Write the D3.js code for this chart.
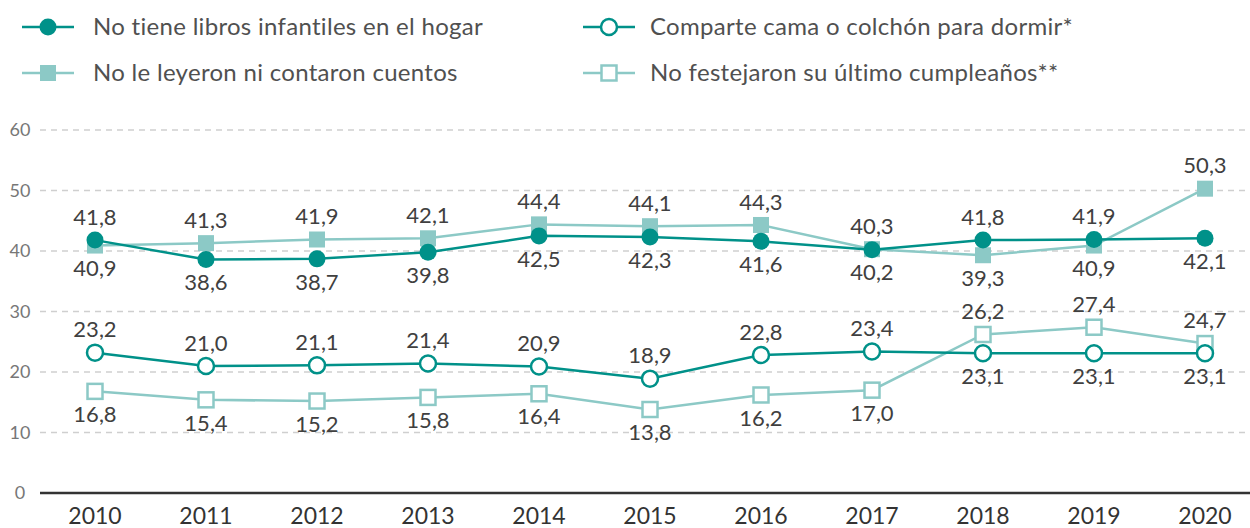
<!DOCTYPE html>
<html>
<head>
<meta charset="utf-8">
<script src="https://cdn.jsdelivr.net/npm/d3@7"></script>
<style>
  body { margin: 0; background: #fff; }
  svg { display: block; font-family: Lato, "Noto Sans", sans-serif; }
</style>
</head>
<body>
<svg width="1250" height="528"></svg>
<script>
var years = [2010, 2011, 2012, 2013, 2014, 2015, 2016, 2017, 2018, 2019, 2020];
var yTicks = [0, 10, 20, 30, 40, 50, 60];

var libros    = [41.8, 38.6, 38.7, 39.8, 42.5, 42.3, 41.6, 40.2, 41.8, 41.9, 42.1];
var cuentos   = [40.9, 41.3, 41.9, 42.1, 44.4, 44.1, 44.3, 40.3, 39.3, 40.9, 50.3];
var cama      = [23.2, 21.0, 21.1, 21.4, 20.9, 18.9, 22.8, 23.4, 23.1, 23.1, 23.1];
var cumple    = [16.8, 15.4, 15.2, 15.8, 16.4, 13.8, 16.2, 17.0, 26.2, 27.4, 24.7];

// label placement: 1 = above, -1 = below
var librosPos  = [1, -1, -1, -1, -1, -1, -1, -1, 1, 1, -1];
var cuentosPos = [-1, 1, 1, 1, 1, 1, 1, 1, -1, -1, 1];
var camaPos    = [1, 1, 1, 1, 1, 1, 1, 1, -1, -1, -1];
var cumplePos  = [-1, -1, -1, -1, -1, -1, -1, -1, 1, 1, 1];

var dark = "#009189", light = "#8cc9c6";

var series = [
    {name: "No tiene libros infantiles en el hogar", values: libros, pos: librosPos, color: dark, shape: "circle", filled: true},
    {name: "No le leyeron ni contaron cuentos", values: cuentos, pos: cuentosPos, color: light, shape: "square", filled: true},
    {name: "Comparte cama o colchón para dormir*", values: cama, pos: camaPos, color: dark, shape: "circle", filled: false},
    {name: "No festejaron su último cumpleaños**", values: cumple, pos: cumplePos, color: light, shape: "square", filled: false}
];

var svg = d3.select("svg");

var x = d3.scalePoint().domain(years).range([95, 1205]);
var y = d3.scaleLinear().domain([0, 60]).range([493, 130]);

// grid
svg.append("g").selectAll("line")
    .data(yTicks.filter(function(d) { return d > 0; }))
    .enter().append("line")
    .attr("x1", 40).attr("x2", 1250)
    .attr("y1", function(d) { return y(d); })
    .attr("y2", function(d) { return y(d); })
    .attr("stroke", "#cfcfcf")
    .attr("stroke-width", 1.5)
    .attr("stroke-dasharray", "6,5");

svg.append("g").selectAll("text")
    .data(yTicks)
    .enter().append("text")
    .attr("x", 20)
    .attr("y", function(d) { return y(d); })
    .attr("dy", "0.35em")
    .attr("text-anchor", "middle")
    .attr("fill", "#777")
    .attr("font-size", 18)
    .text(function(d) { return d; });

// x axis
svg.append("line")
    .attr("x1", 40).attr("x2", 1250)
    .attr("y1", y(0)).attr("y2", y(0))
    .attr("stroke", "#333").attr("stroke-width", 2.5);

svg.append("g").selectAll("text")
    .data(years)
    .enter().append("text")
    .attr("x", function(d) { return x(d); })
    .attr("y", 524)
    .attr("text-anchor", "middle")
    .attr("fill", "#333")
    .attr("font-size", 23)
    .text(function(d) { return d; });

var lineFunction = d3.line()
    .x(function(d, i) { return x(years[i]); })
    .y(function(d) { return y(d); });

function drawMarker(g, s, cx, cy) {
    if (s.shape === "circle") {
        g.append("circle")
            .attr("cx", cx).attr("cy", cy)
            .attr("r", s.filled ? 8.5 : 8)
            .attr("fill", s.filled ? s.color : "#fff")
            .attr("stroke", s.color)
            .attr("stroke-width", s.filled ? 0 : 2.5);
    } else {
        var h = s.filled ? 8 : 7.5;
        g.append("rect")
            .attr("x", cx - h).attr("y", cy - h)
            .attr("width", h * 2).attr("height", h * 2)
            .attr("fill", s.filled ? s.color : "#fff")
            .attr("stroke", s.color)
            .attr("stroke-width", s.filled ? 0 : 2.5);
    }
}

var fmt = function(v) { return v.toFixed(1).replace(".", ","); };

// draw order: light series under dark
[series[3], series[1], series[2], series[0]].forEach(function(s) {
    var g = svg.append("g");
    g.append("path")
        .attr("d", lineFunction(s.values))
        .attr("fill", "none")
        .attr("stroke", s.color)
        .attr("stroke-width", 2.5);
    s.values.forEach(function(v, i) {
        drawMarker(g, s, x(years[i]), y(v));
    });
});

series.forEach(function(s) {
    svg.append("g").selectAll("text")
        .data(s.values)
        .enter().append("text")
        .attr("x", function(d, i) { return x(years[i]); })
        .attr("y", function(d, i) { return y(d) - s.pos[i] * 23; })
        .attr("dy", "0.35em")
        .attr("text-anchor", "middle")
        .attr("fill", "#404040")
        .attr("font-size", 22)
        .text(fmt);
});

// legend
var legendPos = [[22, 27, 93], [22, 73, 93], [583, 27, 650], [583, 73, 650]];
series.forEach(function(s, i) {
    var lx = legendPos[i][0], ly = legendPos[i][1];
    var g = svg.append("g");
    g.append("line")
        .attr("x1", lx).attr("x2", lx + 52)
        .attr("y1", ly).attr("y2", ly)
        .attr("stroke", s.color).attr("stroke-width", 2.5);
    drawMarker(g, s, lx + 26, ly);
    g.append("text")
        .attr("x", legendPos[i][2])
        .attr("y", ly)
        .attr("dy", "0.35em")
        .attr("fill", "#505050")
        .attr("font-size", 24)
        .attr("letter-spacing", 0.3)
        .text(s.name);
});
</script>
</body>
</html>
